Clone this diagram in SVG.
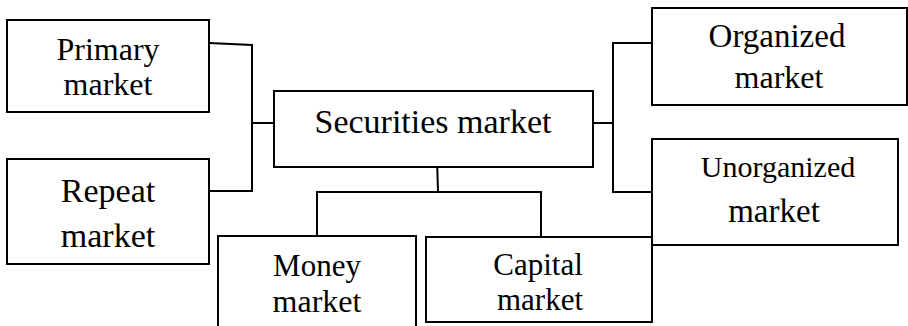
<svg xmlns="http://www.w3.org/2000/svg" width="908" height="326" viewBox="0 0 908 326">
<style>
.box{fill:#fff;stroke:#000;stroke-width:2}
.ln{fill:none;stroke:#000;stroke-width:2}
text{font-family:"Liberation Serif","Times New Roman",serif;fill:#000;text-anchor:middle}
</style>
<rect width="908" height="326" fill="#fff"/>
<g id="connectors">
<path class="ln" d="M209,43 L252,45 L252,191 L209,191"/>
<path class="ln" d="M252,123 L274,123"/>
<path class="ln" d="M593,123 L613,123"/>
<path class="ln" d="M652,43 L613,43 L613,192 L652,192"/>
<path class="ln" d="M437,159 L438,192"/>
<path class="ln" d="M317,236 L317,192 L541,192 L541,237"/>
</g>
<g id="primary">
<rect class="box" x="7" y="20" width="202" height="92"/>
<text x="108" y="60" font-size="32">Primary</text>
<text x="108" y="95" font-size="32">market</text>
</g>
<g id="repeat">
<rect class="box" x="7" y="159" width="202" height="105"/>
<text x="108" y="202" font-size="34">Repeat</text>
<text x="108" y="247" font-size="34">market</text>
</g>
<g id="securities">
<rect class="box" x="274" y="91" width="319" height="76"/>
<text x="433" y="133" font-size="34">Securities market</text>
</g>
<g id="organized">
<rect class="box" x="652" y="8" width="255" height="97"/>
<text x="777" y="47" font-size="33">Organized</text>
<text x="779" y="88" font-size="32">market</text>
</g>
<g id="unorganized">
<rect class="box" x="652" y="139" width="246" height="106"/>
<text x="778" y="177" font-size="30">Unorganized</text>
<text x="774" y="222" font-size="33">market</text>
</g>
<g id="money">
<rect class="box" x="218" y="236" width="198" height="100"/>
<text x="317" y="276" font-size="31">Money</text>
<text x="317" y="312" font-size="32">market</text>
</g>
<g id="capital">
<rect class="box" x="426" y="237" width="226" height="85"/>
<text x="538" y="275" font-size="31">Capital</text>
<text x="540" y="310" font-size="31">market</text>
</g>
</svg>
